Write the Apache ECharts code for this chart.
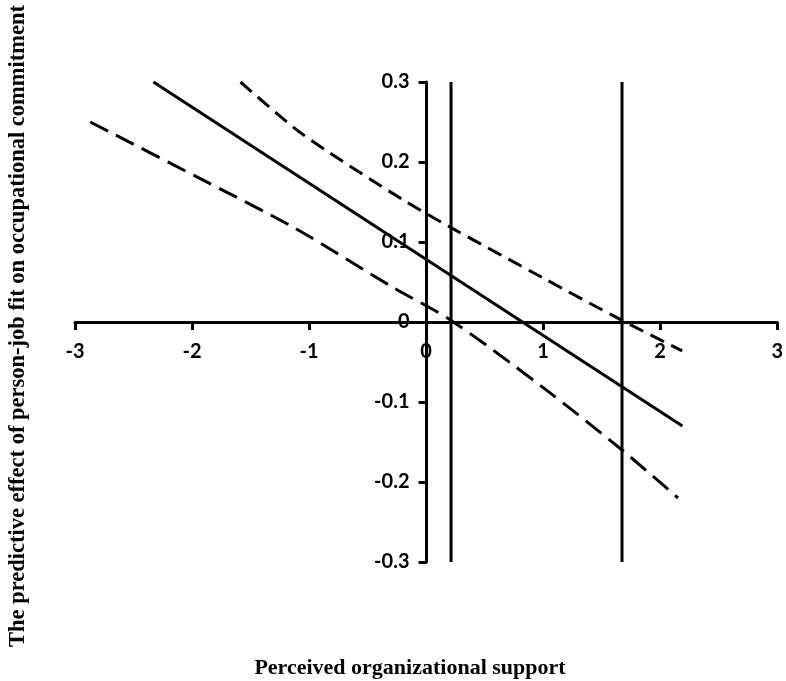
<!DOCTYPE html>
<html>
<head>
<meta charset="utf-8">
<script src="https://cdn.jsdelivr.net/npm/echarts@6/dist/echarts.min.js"></script>
<style>
  html, body { margin: 0; padding: 0; background: #fff; }
  #chart { width: 786px; height: 681px; }
</style>
</head>
<body>
<div id="chart"></div>
<script>
// conditional effect (solid) and 95% confidence bounds (dashed)
const effectX = [-2.33, 2.19]
const effectY = [0.30, -0.130]

const upperX = [-1.586, -1.13, -0.85, -0.19, 0.213, 1.0, 1.674, 2.188]
const upperY = [0.300, 0.243, 0.214, 0.152, 0.118, 0.055, 0.002, -0.036]

const lowerX = [-2.87, -1.98, -1.13, -0.28, 0.213, 1.0, 1.674, 2.152]
const lowerY = [0.250, 0.183, 0.118, 0.043, 0.002, -0.082, -0.160, -0.220]

// region of significance boundaries
const bounds = [0.213, 1.674]

const xTicks = [-3, 3, 1]
const yTicks = [-0.3, 0.3, 0.1]

const pairs = (xs, ys) => xs.map((x, i) => [x, ys[i]])

const GRID = { left: 75, right: 8, top: 82, bottom: 119 }
const plotW = 786 - GRID.left - GRID.right
const plotH = 681 - GRID.top - GRID.bottom

// axes cross at the origin; shift them in with offset so labels follow
const yAxisOffset = -plotW * (0 - xTicks[0]) / (xTicks[1] - xTicks[0])
const xAxisOffset = -plotH * (0 - yTicks[0]) / (yTicks[1] - yTicks[0])

const chart = echarts.init(document.getElementById('chart'))

const lineBase = {
  type: 'line',
  symbol: 'none',
  silent: true,
  animation: false,
}

const tickFont = { color: '#000', fontSize: 20, fontWeight: 'bold', fontFamily: 'Lato' }

chart.setOption({
  animation: false,
  grid: GRID,
  xAxis: {
    type: 'value',
    min: xTicks[0],
    max: xTicks[1],
    interval: xTicks[2],
    offset: xAxisOffset,
    axisLine: { onZero: false, lineStyle: { color: '#000', width: 3 } },
    axisTick: { show: true, length: 8, lineStyle: { color: '#000', width: 3 } },
    axisLabel: { ...tickFont, margin: 20 },
    splitLine: { show: false },
  },
  yAxis: {
    type: 'value',
    min: yTicks[0],
    max: yTicks[1],
    interval: yTicks[2],
    offset: yAxisOffset,
    axisLine: { show: true, onZero: false, lineStyle: { color: '#000', width: 3 } },
    axisTick: { show: true, length: 8, lineStyle: { color: '#000', width: 3 } },
    axisLabel: {
      ...tickFont,
      margin: 17,
      formatter: (v) => String(+v.toFixed(1)),
    },
    splitLine: { show: false },
  },
  series: [
    {
      ...lineBase,
      data: pairs(effectX, effectY),
      lineStyle: { color: '#000', width: 3 },
    },
    {
      ...lineBase,
      smooth: 0.3,
      data: pairs(upperX, upperY),
      lineStyle: { color: '#000', width: 3, type: [15, 8] },
    },
    {
      ...lineBase,
      smooth: 0.3,
      data: pairs(lowerX, lowerY),
      lineStyle: { color: '#000', width: 3, type: [20, 9] },
    },
    ...bounds.map((b) => ({
      ...lineBase,
      data: [[b, yTicks[0]], [b, yTicks[1]]],
      lineStyle: { color: '#000', width: 3 },
    })),
  ],
  graphic: [
    {
      type: 'text',
      x: 18,
      y: 326,
      rotation: Math.PI / 2,
      style: {
        text: 'The predictive effect of person-job fit on occupational commitment',
        fill: '#000',
        font: 'bold 22.5px "Liberation Serif", "Times New Roman", serif',
        align: 'center',
        verticalAlign: 'middle',
      },
    },
    {
      type: 'text',
      x: 410,
      y: 668,
      style: {
        text: 'Perceived organizational support',
        fill: '#000',
        font: 'bold 22px "Liberation Serif", "Times New Roman", serif',
        align: 'center',
        verticalAlign: 'middle',
      },
    },
  ],
})
</script>
</body>
</html>
